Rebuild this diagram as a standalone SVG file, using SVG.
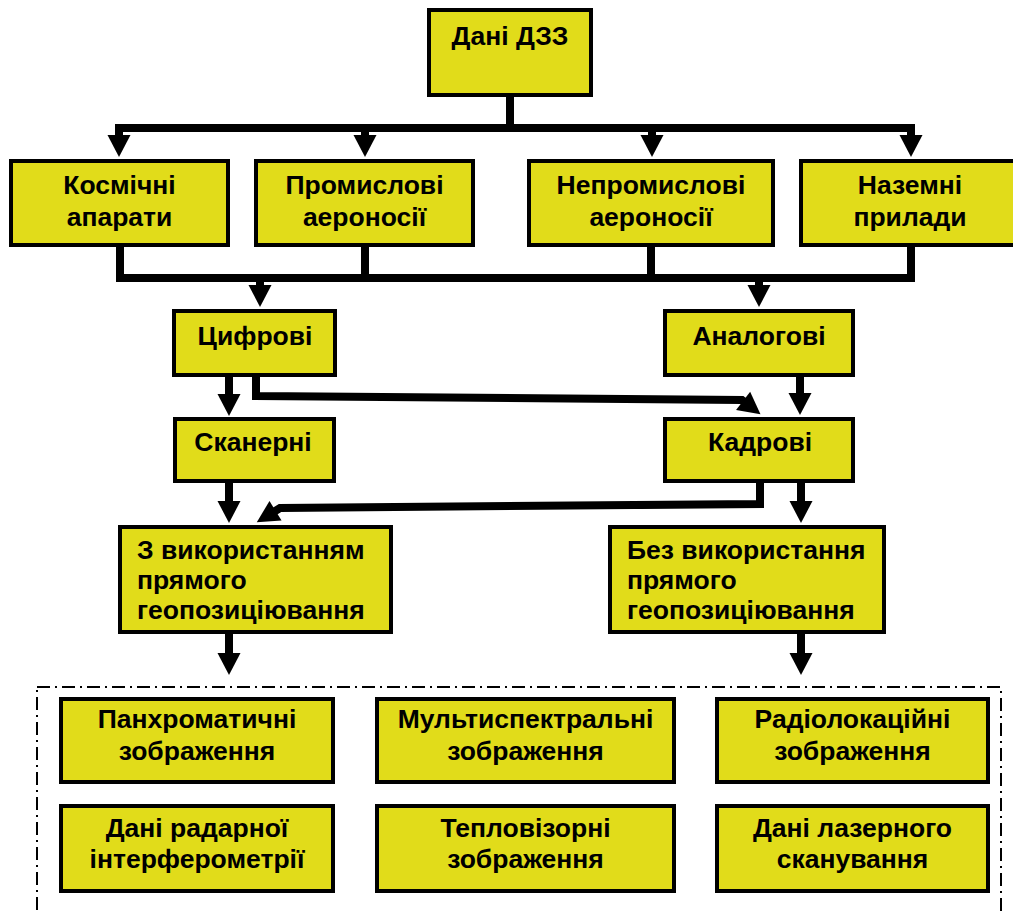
<svg xmlns="http://www.w3.org/2000/svg" width="1013" height="915" viewBox="0 0 1013 915">
  <defs>
    <marker id="ah" markerUnits="userSpaceOnUse" markerWidth="24" markerHeight="24" refX="10" refY="11.5" orient="auto" overflow="visible">
      <path d="M0,0 L22,11.5 L0,23 Z" fill="#000"/>
    </marker>
  </defs>
  <style>
    .box { fill: #E1DC1A; stroke: #000; stroke-width: 4; }
    .t { font-family: "Liberation Sans", Arial, sans-serif; font-weight: bold; font-size: 26.5px; fill: #000; }
    .c { text-anchor: middle; }
    .ln { fill: none; stroke: #000; stroke-width: 8; stroke-linejoin: miter; }
    .ar { marker-end: url(#ah); }
    .grp { fill: none; stroke: #000; stroke-width: 2; stroke-dasharray: 13 5 2 5; }
  </style>
  <rect width="1013" height="915" fill="#fff"/>

  <g id="connectors">
    <path class="ln" d="M510,97 V128"/>
    <path class="ln" d="M115,128 H915"/>
    <path class="ln ar" d="M119,124 V145"/>
    <path class="ln ar" d="M365,124 V145"/>
    <path class="ln ar" d="M652,124 V145"/>
    <path class="ln ar" d="M911,124 V145"/>

    <path class="ln" d="M120,247 V278 H911 V247"/>
    <path class="ln" d="M365,247 V278"/>
    <path class="ln" d="M651,247 V278"/>
    <path class="ln ar" d="M260,274 V295"/>
    <path class="ln ar" d="M759,274 V295"/>

    <path class="ln ar" d="M229,377 V404"/>
    <path class="ln ar" d="M256,377 V396 L742,400 L751,407"/>
    <path class="ln ar" d="M800,377 V403"/>

    <path class="ln ar" d="M229,483 V511"/>
    <path class="ln ar" d="M760,483 V504 L280,508 L267,516"/>
    <path class="ln ar" d="M801,483 V511"/>

    <path class="ln ar" d="M229,634 V663"/>
    <path class="ln ar" d="M801,634 V663"/>
  </g>

  <g id="n-dani">
    <rect class="box" x="429" y="10" width="162" height="85"/>
    <text class="t c" x="510" y="45">Дані ДЗЗ</text>
  </g>

  <g id="n-kosmichni">
    <rect class="box" x="11" y="161" width="217" height="84"/>
    <text class="t c" x="119.5" y="194">Космічні</text>
    <text class="t c" x="119.5" y="226">апарати</text>
  </g>
  <g id="n-promyslovi">
    <rect class="box" x="256" y="161" width="217" height="84"/>
    <text class="t c" x="364.5" y="194">Промислові</text>
    <text class="t c" x="364.5" y="226">аероносії</text>
  </g>
  <g id="n-nepromyslovi">
    <rect class="box" x="529" y="161" width="244" height="84"/>
    <text class="t c" x="651" y="194">Непромислові</text>
    <text class="t c" x="651" y="226">аероносії</text>
  </g>
  <g id="n-nazemni">
    <rect class="box" x="801" y="161" width="218" height="84"/>
    <text class="t c" x="910" y="194">Наземні</text>
    <text class="t c" x="910" y="226">прилади</text>
  </g>

  <g id="n-tsyfrovi">
    <rect class="box" x="174" y="311" width="161" height="64"/>
    <text class="t c" x="255" y="345">Цифрові</text>
  </g>
  <g id="n-analogovi">
    <rect class="box" x="665" y="311" width="188" height="64"/>
    <text class="t c" x="759" y="345">Аналогові</text>
  </g>

  <g id="n-skanerni">
    <rect class="box" x="175" y="419" width="159" height="62"/>
    <text class="t c" x="253" y="451">Сканерні</text>
  </g>
  <g id="n-kadrovi">
    <rect class="box" x="665" y="419" width="188" height="62"/>
    <text class="t c" x="760" y="451">Кадрові</text>
  </g>

  <g id="n-z-vykorystanniam">
    <rect class="box" x="120" y="527" width="271" height="105"/>
    <text class="t" x="137" y="559">З використанням</text>
    <text class="t" x="137" y="589">прямого</text>
    <text class="t" x="137" y="619">геопозиціювання</text>
  </g>
  <g id="n-bez-vykorystannia">
    <rect class="box" x="610" y="527" width="274" height="105"/>
    <text class="t" x="627" y="559">Без використання</text>
    <text class="t" x="627" y="589">прямого</text>
    <text class="t" x="627" y="619">геопозиціювання</text>
  </g>

  <g id="g-types">
    <rect class="grp" x="37" y="687" width="964" height="260"/>
  </g>

  <g id="n-pankhromatychni">
    <rect class="box" x="61" y="699" width="272" height="83"/>
    <text class="t c" x="197" y="728">Панхроматичні</text>
    <text class="t c" x="197" y="760">зображення</text>
  </g>
  <g id="n-multyspektralni">
    <rect class="box" x="377" y="699" width="297" height="83"/>
    <text class="t c" x="525.5" y="728">Мультиспектральні</text>
    <text class="t c" x="525.5" y="760">зображення</text>
  </g>
  <g id="n-radiolokatsiini">
    <rect class="box" x="717" y="699" width="271" height="83"/>
    <text class="t c" x="852.5" y="728">Радіолокаційні</text>
    <text class="t c" x="852.5" y="760">зображення</text>
  </g>
  <g id="n-radarnoi">
    <rect class="box" x="61" y="806" width="272" height="85"/>
    <text class="t c" x="197" y="837">Дані радарної</text>
    <text class="t c" x="197" y="868">інтерферометрії</text>
  </g>
  <g id="n-teplovizorni">
    <rect class="box" x="377" y="806" width="297" height="85"/>
    <text class="t c" x="525.5" y="837">Тепловізорні</text>
    <text class="t c" x="525.5" y="868">зображення</text>
  </g>
  <g id="n-lazernoho">
    <rect class="box" x="717" y="806" width="271" height="85"/>
    <text class="t c" x="852.5" y="837">Дані лазерного</text>
    <text class="t c" x="852.5" y="868">сканування</text>
  </g>
</svg>
